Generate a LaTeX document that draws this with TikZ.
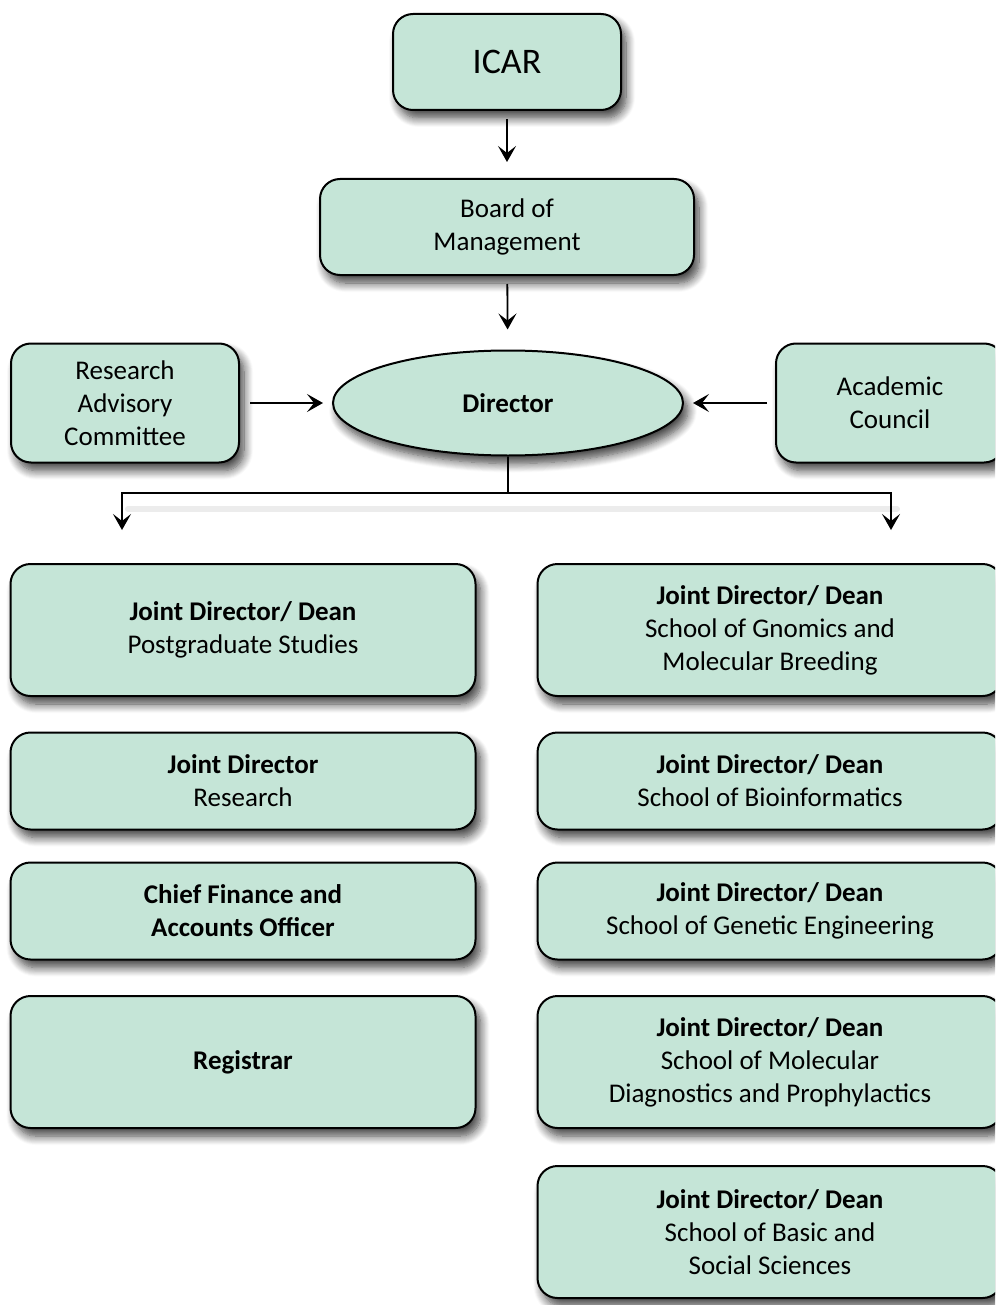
\documentclass[tikz,border=0pt]{standalone}
\usepackage{fontspec}
\setmainfont{Carlito}
\usepackage{tikz}
\usetikzlibrary{shapes.geometric,arrows.meta,shadows.blur}

\definecolor{boxgreen}{HTML}{C5E5D7}

\begin{document}
\begin{tikzpicture}[x=0.5pt,y=-0.5pt]
  \useasboundingbox (0,0) rectangle (995,1305);
  \clip (0,0) rectangle (995,1305);

  % Define styles for the boxes, the ellipse and the arrows
  \tikzset{
    unitbox/.style={draw, line width=1pt, rounded corners=10pt, fill=boxgreen,
      align=center, inner sep=2pt, font=\fontsize{13.5}{16.5}\selectfont,
      blur shadow={shadow xshift=2.5pt, shadow yshift=-4pt, shadow blur steps=10,
        shadow opacity=75, shadow blur radius=4.5pt}},
    smallbox/.style={unitbox, minimum width=114pt, minimum height=59.5pt},
    widebox/.style={unitbox, minimum width=232.5pt, minimum height=66pt},
    flatbox/.style={unitbox, minimum width=232.5pt, minimum height=48.5pt},
    headellipse/.style={ellipse, draw, line width=1pt, fill=boxgreen, inner sep=0pt,
      minimum width=175pt, minimum height=52.5pt, font=\fontsize{13.5}{16.5}\selectfont,
      blur shadow={shadow xshift=2.5pt, shadow yshift=-4pt, shadow blur steps=10,
        shadow opacity=75, shadow blur radius=4.5pt}},
    myarrow/.style={line width=0.9pt, -{Stealth[length=8pt, width=9pt, inset=3.5pt]}},
    myline/.style={line width=0.9pt},
    lineshadow/.style={line width=3pt, line cap=round, gray!60, opacity=0.25}
  }

  % Top of the chart
  \node[unitbox, minimum width=114pt, minimum height=48pt,
    font=\fontsize{18}{21}\selectfont] (icar) at (507,62) {ICAR};
  \node[unitbox, minimum width=187pt, minimum height=48pt] (board) at (507,227)
    {Board of\\Management};
  \node[headellipse] (director) at (508,403) {\textbf{Director}};
  \node[smallbox] (rac) at (125,403) {Research\\Advisory\\Committee};
  \node[smallbox] (council) at (890,403) {Academic\\Council};

  % Left column
  \node[widebox] (pgs) at (243,630) {\textbf{Joint Director/ Dean}\\Postgraduate Studies};
  \node[flatbox] (research) at (243,781) {\textbf{Joint Director}\\Research};
  \node[flatbox] (finance) at (243,911) {\textbf{Chief Finance and}\\\textbf{Accounts Officer}};
  \node[widebox] (registrar) at (243,1062) {\textbf{Registrar}};

  % Right column
  \node[widebox] (gnomics) at (770,630)
    {\textbf{Joint Director/ Dean}\\School of Gnomics and\\Molecular Breeding};
  \node[flatbox] (bioinf) at (770,781) {\textbf{Joint Director/ Dean}\\School of Bioinformatics};
  \node[flatbox] (geneng) at (770,911)
    {\textbf{Joint Director/ Dean}\\School of Genetic Engineering};
  \node[widebox] (moldiag) at (770,1062)
    {\textbf{Joint Director/ Dean}\\School of Molecular\\Diagnostics and Prophylactics};
  \node[widebox] (basic) at (770,1232)
    {\textbf{Joint Director/ Dean}\\School of Basic and\\Social Sciences};

  % Free ends of the branch arrows
  \coordinate (split) at (508,493);
  \coordinate (leftend) at (122,530);
  \coordinate (rightend) at (891,530);

  % Faint shadow under the branch line
  \draw[lineshadow] ([xshift=3pt,yshift=-8pt]leftend |- split) -- ([xshift=3pt,yshift=-8pt]rightend |- split);

  % Connectors
  \draw[myarrow, shorten <=4pt, shorten >=8pt] (icar) -- (board);
  \draw[myarrow, shorten <=4pt, shorten >=10pt] (board) -- (director);
  \draw[myarrow, shorten <=5pt, shorten >=4.5pt] (rac) -- (director);
  \draw[myarrow, shorten <=4pt, shorten >=4.5pt] (council) -- (director);
  \draw[myline] (director) -- (split);
  \draw[myarrow] (split) -| (leftend);
  \draw[myarrow] (split) -| (rightend);

\end{tikzpicture}
\end{document}
